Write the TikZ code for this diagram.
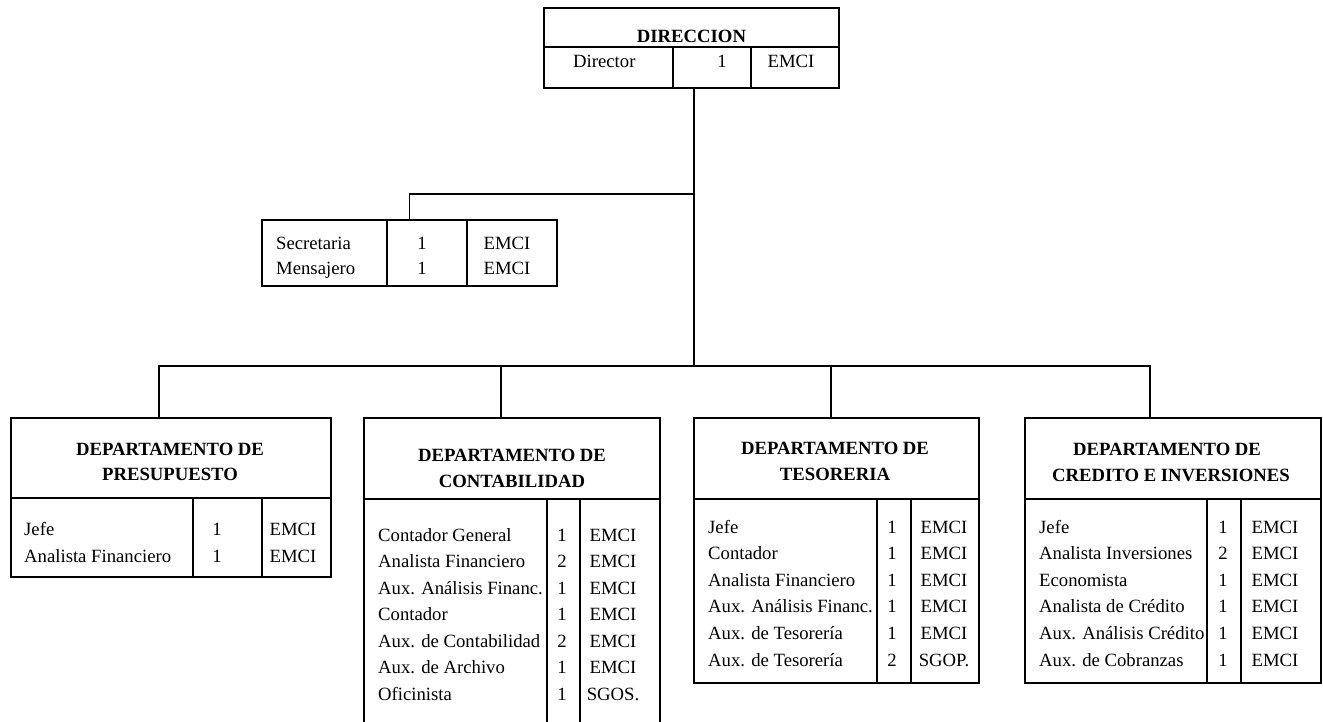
\documentclass[tikz,border=0pt]{standalone}
\usepackage{fontspec}
\setmainfont{Liberation Serif}
\newcommand\orgfs{\fontsize{18.7}{23}\selectfont}
\tikzset{
  box/.style={draw, line width=1.2pt, rectangle, inner sep=0pt, outer sep=0pt},
  openbox/.style={rectangle, inner sep=0pt, outer sep=0pt},
  rule/.style={line width=1.2pt},
  conn/.style={line width=1.2pt},
  lbl/.style={font=\orgfs, anchor=base west, inner sep=0pt},
  num/.style={font=\orgfs, anchor=base, inner sep=0pt},
  hdr/.style={font=\orgfs\bfseries, anchor=base, inner sep=0pt},
}
\begin{document}
\begin{tikzpicture}[x=1pt,y=-1pt]
\fill[white] (0,0) rectangle (1323,722);
\useasboundingbox (0,0) rectangle (1323,722);

% ---------- DIRECCION ----------
\node[box, minimum width=295pt, minimum height=80pt] (dir) at (691.5,48) {};
\draw[rule] (544,47) -- (839,47);
\draw[rule] (673,47) -- (673,88);
\draw[rule] (751,47) -- (751,88);
\node[hdr] (dirt) at (691.5,43) {DIRECCION};
\node[lbl] (dirl) at (573,68) {Director};
\node[num] (dirn) at (722,68) {1};
\node[num] (dirc) at (791,68) {EMCI};

% ---------- Secretaria ----------
\node[box, minimum width=295pt, minimum height=66pt] (sec) at (409.5,253) {};
\draw[rule] (387,220) -- (387,286);
\draw[rule] (467,220) -- (467,286);
\node[lbl] (secl1) at (276,250) {Secretaria};
\node[lbl] (secl2) at (276,275) {Mensajero};
\node[num] (secn1) at (422,250) {1};
\node[num] (secn2) at (422,275) {1};
\node[num] (secc1) at (507,250) {EMCI};
\node[num] (secc2) at (507,275) {EMCI};

% ---------- PRESUPUESTO ----------
\node[box, minimum width=320pt, minimum height=159pt] (pres) at (171,497.5) {};
\draw[rule] (11,498) -- (331,498);
\draw[rule] (193,498) -- (193,577);
\draw[rule] (262,498) -- (262,577);
\node[hdr] (prest1) at (170,455) {DEPARTAMENTO DE};
\node[hdr] (prest2) at (170,480) {PRESUPUESTO};
\foreach \t/\n/\c [count=\i from 0] in {Jefe/1/EMCI,Analista Financiero/1/EMCI}{
  \node[lbl] (pl\i) at (24,{535+27*\i}) {\t};
  \node[num] (pn\i) at (217,{535+27*\i}) {\n};
  \node[num] (pc\i) at (293,{535+27*\i}) {\c};
}

% ---------- CONTABILIDAD (open at the bottom) ----------
\node[openbox, minimum width=296pt, minimum height=304pt] (cont) at (512,570) {};
\draw[rule] (cont.south west) -- (cont.north west) -- (cont.north east) -- (cont.south east);
\draw[rule] (364,499) -- (660,499);
\draw[rule] (547,499) -- (547,722);
\draw[rule] (580,499) -- (580,722);
\node[hdr] (contt1) at (512,461) {DEPARTAMENTO DE};
\node[hdr] (contt2) at (512,487) {CONTABILIDAD};
\foreach \t/\n/\c [count=\i from 0] in {Contador General/1/EMCI,Analista Financiero/2/EMCI,Aux. Análisis Financ./1/EMCI,Contador/1/EMCI,Aux. de Contabilidad/2/EMCI,Aux. de Archivo/1/EMCI,Oficinista/1/SGOS.}{
  \node[lbl] (cl\i) at (378,{541+26.5*\i}) {\t};
  \node[num] (cn\i) at (562,{541+26.5*\i}) {\n};
  \node[num] (cc\i) at (613,{541+26.5*\i}) {\c};
}

% ---------- TESORERIA ----------
\node[box, minimum width=285pt, minimum height=265pt] (teso) at (836.5,550.5) {};
\draw[rule] (694,499) -- (979,499);
\draw[rule] (877,499) -- (877,683);
\draw[rule] (911,499) -- (911,683);
\node[hdr] (tesot1) at (835,454) {DEPARTAMENTO DE};
\node[hdr] (tesot2) at (835,480) {TESORERIA};
\foreach \t/\n/\c [count=\i from 0] in {Jefe/1/EMCI,Contador/1/EMCI,Analista Financiero/1/EMCI,Aux. Análisis Financ./1/EMCI,Aux. de Tesorería/1/EMCI,Aux. de Tesorería/2/SGOP.}{
  \node[lbl] (tl\i) at (708,{533+26.6*\i}) {\t};
  \node[num] (tn\i) at (892,{533+26.6*\i}) {\n};
  \node[num] (tc\i) at (944,{533+26.6*\i}) {\c};
}

% ---------- CREDITO E INVERSIONES ----------
\node[box, minimum width=296pt, minimum height=265pt] (cred) at (1173,550.5) {};
\draw[rule] (1025,499) -- (1321,499);
\draw[rule] (1207,499) -- (1207,683);
\draw[rule] (1241,499) -- (1241,683);
\node[hdr] (credt1) at (1167,455) {DEPARTAMENTO DE};
\node[hdr] (credt2) at (1171,481) {CREDITO E INVERSIONES};
\foreach \t/\n/\c [count=\i from 0] in {Jefe/1/EMCI,Analista Inversiones/2/EMCI,Economista/1/EMCI,Analista de Crédito/1/EMCI,Aux. Análisis Crédito/1/EMCI,Aux. de Cobranzas/1/EMCI}{
  \node[lbl] (rl\i) at (1039,{533+26.6*\i}) {\t};
  \node[num] (rn\i) at (1223,{533+26.6*\i}) {\n};
  \node[num] (rc\i) at (1275,{533+26.6*\i}) {\c};
}

% ---------- connectors ----------
\coordinate (bus) at (694,366);
\coordinate (jsec) at (694,194);
\coordinate (bl) at (159,366);
\coordinate (br) at (1150,366);
\coordinate (dp) at (159,418);
\coordinate (dc) at (501,418);
\coordinate (dt) at (831,418);
\coordinate (dr) at (1150,418);
\draw[conn] (dir.south -| bus) -- (bus);
\draw[conn] (sec.north) |- (jsec);
\draw[conn] (dp) -- (bl) -- (br) -- (dr);
\draw[conn] (dc) -- (dc |- bl);
\draw[conn] (dt) -- (dt |- bl);
\end{tikzpicture}
\end{document}
